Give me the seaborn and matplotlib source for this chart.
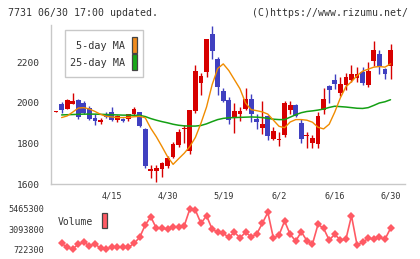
import numpy as np
import pandas as pd
import matplotlib
matplotlib.use("Agg")
import matplotlib.pyplot as plt
import seaborn as sns
from matplotlib.patches import Rectangle

# ---- data ----
opens = [1957, 1993, 1972, 1997, 2013, 2002, 1975, 1927, 1905, 1948,
         1955, 1915, 1920, 1921, 1945, 1955, 1870, 1665, 1664, 1672,
         1687, 1735, 1793, 1870, 1765, 1960, 2098, 2153, 2340, 2216,
         2057, 2016, 1924, 1944, 1972, 2021, 1919, 1877, 1934, 1822,
         1817, 1841, 1964, 1988, 1900, 1839, 1800, 1797, 1967, 2083,
         2115, 2049, 2090, 2111, 2124, 2155, 2087, 2206, 2240, 2170, 2181]
highs = [1960, 2004, 2019, 2049, 2022, 2009, 1985, 1948, 1928, 1955,
         1978, 1940, 1928, 1946, 1978, 1957, 1875, 1693, 1694, 1708,
         1738, 1808, 1874, 1890, 1967, 2187, 2147, 2318, 2381, 2226,
         2073, 2030, 1998, 1980, 2075, 2046, 1944, 2008, 1940, 1882,
         1855, 2010, 2009, 1996, 1923, 1857, 1841, 1955, 2075, 2088,
         2143, 2128, 2149, 2189, 2177, 2177, 2204, 2308, 2260, 2172, 2293]
lows = [1956, 1949, 1970, 1995, 1922, 1945, 1918, 1893, 1895, 1926,
        1913, 1908, 1908, 1912, 1943, 1880, 1680, 1632, 1612, 1636,
        1677, 1728, 1785, 1803, 1750, 1950, 2040, 2127, 2218, 2041,
        2005, 1897, 1852, 1911, 1967, 1905, 1874, 1849, 1818, 1815,
        1787, 1833, 1945, 1930, 1800, 1779, 1779, 1780, 1944, 2000,
        2070, 2035, 2062, 2103, 2106, 2090, 2080, 2185, 2144, 2117, 2116]
closes = [1959, 1964, 2013, 2012, 1932, 1950, 1922, 1912, 1917, 1930,
          1918, 1936, 1910, 1944, 1972, 1885, 1690, 1675, 1680, 1705,
          1730, 1797, 1855, 1877, 1965, 2157, 2135, 2316, 2258, 2078,
          2010, 1914, 1959, 1960, 2021, 1944, 1906, 1895, 1835, 1860,
          1824, 2000, 1988, 1934, 1820, 1842, 1825, 1934, 2018, 2065,
          2093, 2095, 2128, 2144, 2143, 2098, 2160, 2263, 2183, 2142, 2263]

ma5 = [1928, 1936, 1955, 1975, 1977, 1970, 1958, 1944, 1934, 1931,
       1928, 1928, 1929, 1932, 1934, 1927, 1875, 1833, 1785, 1735,
       1697, 1725, 1752, 1785, 1830, 1900, 1980, 2090, 2170, 2193,
       2160, 2115, 2070, 2000, 1967, 1962, 1956, 1945, 1915, 1885,
       1878, 1906, 1918, 1918, 1915, 1905, 1880, 1872, 1895, 1955,
       2025, 2080, 2105, 2135, 2157, 2167, 2177, 2180, 2177, 2193]
ma25 = [1941, 1942, 1943, 1944, 1945, 1945, 1945, 1944, 1943, 1942,
        1941, 1940, 1940, 1939, 1939, 1933, 1923, 1915, 1908, 1902,
        1895, 1890, 1887, 1886, 1886, 1889, 1897, 1908, 1918, 1924,
        1927, 1928, 1929, 1930, 1931, 1930, 1928, 1924, 1920, 1918,
        1918, 1930, 1942, 1952, 1958, 1961, 1965, 1970, 1978, 1984,
        1982, 1980, 1977, 1974, 1973, 1977, 1988, 2000, 2006, 2016]
volume = [1426000, 957000, 757000, 1345000, 1544000, 1145000, 1345000, 840000, 722000, 1028000,
          957000, 957000, 957000, 1426000, 2131000, 3575000, 4550000, 3188000, 3188000, 3106000,
          3376000, 3376000, 3493000, 5454000, 5336000, 3775000, 4667000, 3106000, 2718000, 2601000,
          2131000, 2718000, 2084000, 2718000, 2202000, 2519000, 3775000, 5066000, 2014000, 2401000,
          4045000, 2483000, 1697000, 2788000, 1732000, 1345000, 3657000, 3188000, 1814000, 2483000,
          1814000, 1896000, 4667000, 1227000, 1544000, 2014000, 1931000, 2131000, 1896000, 3188000]

date_labels = ["4/15", "4/30", "5/19", "6/2", "6/16", "6/30"]
date_pos = [10, 20, 30, 40, 50, 60]
price_ticks = [1600, 1800, 2000, 2200]
vol_ticks = [722300, 3093800, 5465300]
vol_tick_labels = ["722300", "3093800", "5465300"]

# ---- style ----
sns.set_style("white")
plt.rcParams['font.family'] = ['DejaVu Sans Mono', 'DejaVu Sans']

RED = "#D70000"
BLUE = "#4040C0"
ORANGE = "#F08C00"
GREEN = "#14A014"
PINK = "#FF5A64"
GRAY = "#C8C8C8"
TXT = "#333333"

W, H = 420, 259
def fx(x): return x / W
def fy(y): return 1 - y / H

fig = plt.figure(figsize=(4.2, 2.59), dpi=100)
fig.patch.set_facecolor("white")

ax = fig.add_axes([fx(51), fy(184), 354 / W, 159 / H])
axv = fig.add_axes([fx(51), fy(255), 354 / W, 52 / H])

XLO, XHI = -0.9, 62.6

# ---- candles ----
df = pd.DataFrame({"o": opens, "h": highs, "l": lows, "c": closes})
df["i"] = np.arange(len(df))
df["up"] = df["c"] >= df["o"]
df["color"] = np.where(df["up"], RED, BLUE)
df["bot"] = df[["o", "c"]].min(axis=1)
df["ht"] = (df["c"] - df["o"]).abs().clip(lower=3)

ax.vlines(df["i"], df["l"], df["h"], colors=df["color"], linewidth=1.0, zorder=2)
ax.bar(df["i"], df["ht"], bottom=df["bot"], width=0.86, color=df["color"],
       linewidth=0, zorder=3)

# ---- moving averages ----
ma_idx = np.arange(1, len(ma5) + 1)
sns.lineplot(x=ma_idx, y=ma25, ax=ax, color=GREEN, linewidth=1.1, zorder=4)
sns.lineplot(x=ma_idx, y=ma5, ax=ax, color=ORANGE, linewidth=1.0, zorder=5)

ax.set_xlim(XLO, XHI)
ax.set_ylim(1600, 2385)
ax.set_yticks(price_ticks)
ax.set_yticklabels([str(t) for t in price_ticks])
ax.set_xticks(np.linspace(XLO, XHI, 12))
ax.set_xticklabels([])
ax.set_xlabel("")
ax.set_ylabel("")
for s in ["top", "right"]:
    ax.spines[s].set_visible(False)
for s in ["left", "bottom"]:
    ax.spines[s].set_color(GRAY)
    ax.spines[s].set_linewidth(1.0)
ax.tick_params(axis="y", direction="out", length=5.5, width=1.0, color=GRAY,
               pad=2.6, labelsize=6.8, labelcolor=TXT)
ax.tick_params(axis="x", direction="inout", length=4.6, width=1.0, color=GRAY,
               labelbottom=False)
ax.grid(False)

# ---- volume ----
vol_idx = np.arange(1, len(volume) + 1)
sns.lineplot(x=vol_idx, y=volume, ax=axv, color=PINK, linewidth=1.2,
             marker="D", markersize=4.2, markeredgewidth=0, markerfacecolor=PINK)
axv.set_xlim(XLO, XHI)
axv.set_ylim(53100, 6169700)
axv.set_yticks(vol_ticks)
axv.set_yticklabels(vol_tick_labels)
axv.set_xticks(date_pos)
axv.set_xticklabels(date_labels)
axv.set_xlabel("")
axv.set_ylabel("")
axv.xaxis.set_ticks_position("top")
axv.tick_params(axis="x", top=True, bottom=False, labeltop=True, labelbottom=False,
                length=0, pad=1.6, labelsize=6.1, labelcolor=TXT)
axv.tick_params(axis="y", length=0, pad=4.8, labelsize=6.1, labelcolor=TXT)
for s in axv.spines.values():
    s.set_visible(False)
axv.patch.set_alpha(0)
axv.grid(False)

# ---- legends ----
fig.patches.append(Rectangle((fx(65), fy(77.3)), (143.3 - 65) / W, (77.3 - 30) / H,
                             transform=fig.transFigure, facecolor="white",
                             edgecolor=GRAY, linewidth=1.0, zorder=10))
fig.text(fx(125), fy(46), "5-day MA", ha="right", va="center", fontsize=7.3,
         color=TXT, zorder=11)
fig.text(fx(125), fy(63.3), "25-day MA", ha="right", va="center", fontsize=7.3,
         color=TXT, zorder=11)
fig.patches.append(Rectangle((fx(131.7), fy(53.3)), 5.6 / W, 16 / H,
                             transform=fig.transFigure, facecolor="#F08C1E",
                             edgecolor="#444444", linewidth=0.9, zorder=11))
fig.patches.append(Rectangle((fx(131.7), fy(70)), 5.6 / W, 16 / H,
                             transform=fig.transFigure, facecolor="#18A818",
                             edgecolor="#444444", linewidth=0.9, zorder=11))

fig.text(fx(58), fy(222.3), "Volume", ha="left", va="center", fontsize=7.0,
         color=TXT, zorder=11)
fig.patches.append(Rectangle((fx(101.7), fy(228.3)), 5.6 / W, 15.6 / H,
                             transform=fig.transFigure, facecolor=PINK,
                             edgecolor="#444444", linewidth=0.9, zorder=11))

# ---- header ----
fig.text(fx(8), fy(13), "7731 06/30 17:00 updated.", ha="left", va="center",
         fontsize=7.1, color=TXT)
fig.text(fx(408), fy(13), "(C)https://www.rizumu.net/", ha="right", va="center",
         fontsize=7.1, color=TXT)

fig.savefig("out.png", dpi=100, facecolor="white")
